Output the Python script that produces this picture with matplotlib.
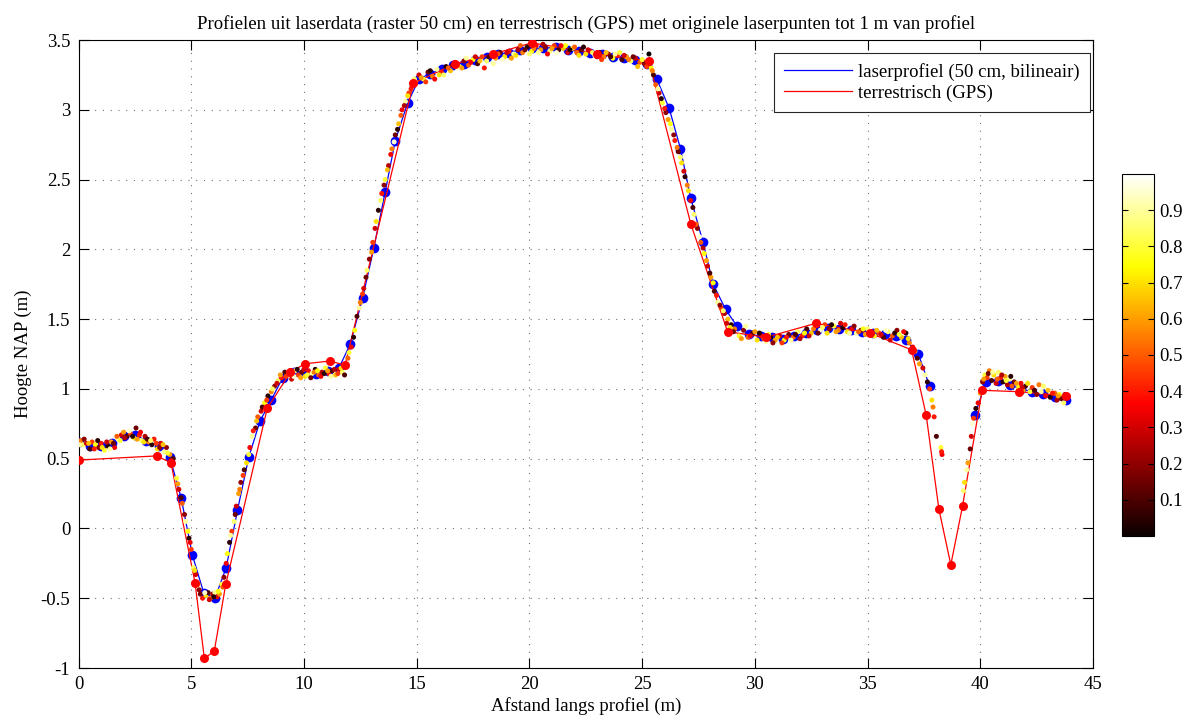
import matplotlib
matplotlib.use("Agg")
import matplotlib.pyplot as plt
import numpy as np
from matplotlib.ticker import FuncFormatter

plt.rcParams["font.family"] = ["Liberation Serif", "DejaVu Serif"]
plt.rcParams["font.size"] = 13.5
plt.rcParams["axes.unicode_minus"] = False

# laser profile (50 cm raster, bilinear), NaN = no data (water)
profile_x = [0.0, 0.5, 1.0, 1.5, 2.0, 2.5, 3.0, 3.55, 4.05, 4.55, 5.05, 5.55,
             6.05, 6.55, 7.05, 7.55, 8.05, 8.55, 9.05, 9.55, 10.05, 10.55,
             11.05, 11.55, 12.05, 12.6, 13.1, 13.6, 14.05, 14.6, 15.1, 15.6,
             16.1, 16.6, 17.1, 17.6, 18.1, 18.6, 19.1, 19.6, 20.1, 20.6, 21.2,
             21.7, 22.2, 22.7, 23.2, 23.7, 24.2, 24.7, 25.2, 25.65, 26.2, 26.7,
             27.15, 27.7, 28.15, 28.7, 29.2, 29.75, 30.25, 30.75, 31.25, 31.75,
             32.25, 32.75, 33.25, 33.75, 34.25, 34.75, 35.25, 35.75, 36.25,
             36.7, 37.25, 37.75, 38.75, 39.75, 40.25, 40.8, 41.3, 41.8, 42.3,
             42.8, 43.3, 43.8]
profile_z = [0.62, 0.59, 0.59, 0.61, 0.66, 0.67, 0.63, 0.59, 0.51, 0.22, -0.19,
             -0.46, -0.50, -0.28, 0.13, 0.51, 0.77, 0.92, 1.08, 1.12, 1.12,
             1.11, 1.13, 1.15, 1.32, 1.65, 2.01, 2.41, 2.78, 3.05, 3.22, 3.26,
             3.29, 3.32, 3.33, 3.36, 3.38, 3.40, 3.41, 3.43, 3.44, 3.44, 3.45,
             3.43, 3.42, 3.41, 3.40, 3.38, 3.37, 3.36, 3.33, 3.22, 3.01, 2.72,
             2.37, 2.05, 1.75, 1.57, 1.45, 1.39, 1.38, 1.37, 1.36, 1.38, 1.40,
             1.42, 1.44, 1.43, 1.42, 1.41, 1.40, 1.39, 1.38, 1.35, 1.25, 1.02,
             np.nan, 0.81, 1.05, 1.06, 1.03, 1.00, 0.98, 0.96, 0.94, 0.92]

# terrestrial GPS survey
gps_x = [0.0, 3.47, 4.10, 5.17, 5.58, 6.02, 6.53, 8.37, 9.4, 10.04, 11.15,
         11.82, 14.85, 16.7, 18.4, 20.1, 23.0, 25.3, 27.16, 28.79, 30.5, 32.7,
         35.1, 36.95, 37.6, 38.16, 38.69, 39.21, 40.08, 41.7, 43.82]
gps_z = [0.49, 0.52, 0.47, -0.39, -0.93, -0.88, -0.40, 0.86, 1.12, 1.18, 1.20,
         1.17, 3.19, 3.33, 3.40, 3.48, 3.40, 3.35, 2.18, 1.41, 1.37, 1.47,
         1.40, 1.28, 0.81, 0.14, -0.26, 0.16, 0.99, 0.98, 0.95]

# original laser points within 1 m of the profile (x, height, colour value)
laser_x = [0.1, 0.2, 0.35, 0.5, 0.6, 0.75, 0.9, 1.0, 1.15, 1.3, 1.45, 1.6, 1.75,
           1.9, 2.0, 2.15, 2.3, 2.45, 2.55, 2.7, 2.8, 2.95, 3.1, 3.25, 3.35,
           3.5, 3.65, 3.8, 3.9, 4.05, 4.15, 4.2,
           4.35, 4.45, 4.6, 4.7, 4.85, 4.9, 5.0, 5.1, 5.2, 5.3, 5.4, 5.5, 5.65,
           5.75, 5.85, 5.95, 6.05, 6.15, 6.25, 6.35, 6.45,
           6.6, 6.7, 6.8, 6.9, 7.0, 7.1, 7.2, 7.3, 7.45, 7.6, 7.7, 7.85, 7.95,
           8.1, 8.25, 8.4, 8.55, 8.7, 8.85, 9.0,
           9.15, 9.3, 9.45, 9.6, 9.75, 9.9, 10.05, 10.2, 10.35, 10.5, 10.65,
           10.8, 10.95, 11.1, 11.25, 11.4, 11.55, 11.7, 11.85, 11.95,
           12.1, 12.25, 12.35, 12.5, 12.65, 12.8, 12.9, 13.05, 13.2, 13.3,
           13.45, 13.6, 13.75, 13.9, 14.05, 14.2, 14.35, 14.5, 14.65, 14.8,
           14.95,
           15.1, 15.3, 15.5, 15.7, 15.9, 16.1, 16.3, 16.5, 16.7, 16.9, 17.1,
           17.3, 17.5, 17.7, 17.9, 18.1, 18.3, 18.5, 18.7, 18.9, 19.1, 19.3,
           19.5, 19.7, 19.9, 20.1, 20.3, 20.5, 20.7, 20.9, 21.1, 21.3, 21.5,
           21.7, 21.9, 22.1, 22.3, 22.5, 22.7, 22.9, 23.1, 23.3, 23.5, 23.7,
           23.9, 24.1, 24.3, 24.5, 24.7, 24.9, 25.1, 25.3,
           15.4, 16.0, 16.8, 17.6, 18.4, 19.2, 20.0, 20.8, 21.6, 22.4, 23.2,
           24.0, 24.8, 19.6, 18.0,
           25.4, 25.5, 25.6, 25.75, 25.9, 26.05, 26.15, 26.3, 26.45, 26.6,
           26.75, 26.9, 27.0, 27.15, 27.3, 27.45, 27.6, 27.75, 27.9, 28.05,
           28.2, 28.35, 28.5, 28.65, 28.8, 28.95, 29.1,
           29.3, 29.5, 29.7, 29.9, 30.1, 30.3, 30.5, 30.7, 30.9, 31.1, 31.3,
           31.5, 31.7, 31.9, 32.1, 32.3, 32.5, 32.7, 32.9, 33.1, 33.3, 33.5,
           33.7, 33.9, 34.1, 34.3, 34.5, 34.7, 34.9, 35.1, 35.3, 35.5, 35.7,
           35.9, 36.1, 36.3, 36.5, 36.7, 36.85, 37.0,
           30.0, 31.2, 32.0, 33.2, 34.0, 35.0, 36.0, 29.6,
           37.1, 37.2, 37.3, 37.45, 37.55, 37.65, 37.75, 37.85, 37.9, 37.95,
           38.05, 38.25, 38.3, 38.28,
           39.25, 39.3, 39.4, 39.45, 39.55, 39.6, 39.65, 39.7, 39.8, 39.9, 40.0,
           40.1, 40.2, 40.3, 40.4, 40.5, 40.6, 40.7, 40.8, 40.9, 41.0, 41.1,
           41.2, 41.3, 41.4, 41.5, 41.7, 41.8, 41.9, 42.0, 42.2, 42.3, 42.5,
           42.6, 42.7, 42.9, 43.0, 43.1, 43.3, 43.4, 43.5, 43.6, 43.7, 43.8,
           # second layer
           0.05, 0.25, 0.45, 0.7, 0.85, 1.05, 1.25, 1.4, 1.55, 1.7, 1.85, 2.05,
           2.25, 2.4, 2.6, 2.75, 2.9, 3.05, 3.2, 3.45, 3.6, 3.75, 3.95, 4.1,
           4.4, 4.55, 4.75, 4.95, 5.15, 5.35, 5.6, 5.8, 6.0, 6.2, 6.4, 6.55,
           6.75, 6.95, 7.15, 7.35, 7.55, 7.75, 7.9, 8.15, 8.35, 8.6, 8.8, 8.95,
           9.2, 9.4, 9.55, 9.7, 9.85, 10.0, 10.15, 10.3, 10.45, 10.6, 10.75,
           10.9, 11.05, 11.2, 11.35, 11.5, 11.65, 11.8, 12.0,
           12.2, 12.45, 12.6, 12.75, 13.0, 13.15, 13.4, 13.55, 13.7, 13.85,
           14.0, 14.15, 14.3, 14.45, 14.6, 14.75, 14.9,
           15.2, 15.6, 15.8, 16.2, 16.4, 16.6, 17.0, 17.2, 17.4, 17.8, 18.2,
           18.6, 18.8, 19.0, 19.4, 19.8, 20.2, 20.4, 20.6, 21.0, 21.2, 21.4,
           21.8, 22.0, 22.2, 22.6, 22.8, 23.0, 23.4, 23.6, 23.8, 24.2, 24.4,
           24.6, 25.0, 25.2,
           25.45, 25.7, 25.85, 26.0, 26.25, 26.4, 26.55, 26.7, 26.85, 27.05,
           27.25, 27.4, 27.55, 27.7, 27.85, 28.0, 28.15, 28.3, 28.45, 28.6,
           28.75, 28.9, 29.05,
           29.4, 29.8, 30.2, 30.4, 30.6, 30.8, 31.0, 31.4, 31.6, 31.8, 32.2,
           32.4, 32.6, 32.8, 33.0, 33.4, 33.6, 33.8, 34.2, 34.4, 34.6, 34.8,
           35.2, 35.4, 35.6, 35.8, 36.2, 36.4, 36.6, 36.8,
           40.15, 40.35, 40.55, 40.75, 40.95, 41.15, 41.35, 41.6, 41.85, 42.1,
           42.4, 42.8, 43.2, 43.45, 43.75]
laser_z = [0.63, 0.60, 0.61, 0.57, 0.62, 0.60, 0.58, 0.61, 0.56, 0.59, 0.62,
           0.58, 0.64, 0.67, 0.69, 0.66, 0.68, 0.65, 0.72, 0.67, 0.63, 0.66,
           0.62, 0.60, 0.64, 0.57, 0.61, 0.55, 0.58, 0.53, 0.47, 0.50,
           0.36, 0.28, 0.18, 0.10, -0.02, -0.07, -0.15, -0.28, -0.33, -0.40,
           -0.47, -0.50, -0.48, -0.46, -0.50, -0.47, -0.46, -0.49, -0.47,
           -0.40, -0.35,
           -0.18, -0.10, -0.02, 0.05, 0.16, 0.25, 0.33, 0.38, 0.47, 0.58, 0.66,
           0.72, 0.80, 0.84, 0.90, 0.95, 0.98, 1.02, 1.06, 1.08,
           1.12, 1.10, 1.07, 1.13, 1.10, 1.12, 1.09, 1.13, 1.11, 1.14, 1.10,
           1.12, 1.15, 1.11, 1.13, 1.10, 1.14, 1.12, 1.16, 1.22,
           1.30, 1.42, 1.52, 1.62, 1.72, 1.85, 1.93, 2.05, 2.20, 2.28, 2.40,
           2.50, 2.60, 2.72, 2.82, 2.90, 3.00, 3.06, 3.12, 3.17, 3.20,
           3.25, 3.22, 3.27, 3.24, 3.29, 3.27, 3.31, 3.28, 3.34, 3.31, 3.35,
           3.32, 3.36, 3.33, 3.38, 3.35, 3.39, 3.37, 3.41, 3.38, 3.42, 3.40,
           3.43, 3.41, 3.45, 3.42, 3.46, 3.43, 3.45, 3.42, 3.46, 3.43, 3.44,
           3.41, 3.44, 3.41, 3.43, 3.40, 3.42, 3.39, 3.41, 3.38, 3.40, 3.37,
           3.39, 3.36, 3.38, 3.35, 3.37, 3.34, 3.33, 3.40,
           3.20, 3.25, 3.30, 3.38, 3.33, 3.37, 3.40, 3.40, 3.46, 3.45, 3.36,
           3.41, 3.31, 3.46, 3.30,
           3.30, 3.25, 3.18, 3.12, 3.05, 2.98, 2.93, 2.86, 2.78, 2.70, 2.62,
           2.52, 2.46, 2.35, 2.25, 2.15, 2.05, 1.97, 1.88, 1.80, 1.70, 1.62,
           1.58, 1.54, 1.50, 1.46, 1.43,
           1.38, 1.42, 1.37, 1.40, 1.35, 1.38, 1.34, 1.37, 1.35, 1.38, 1.35,
           1.39, 1.37, 1.41, 1.38, 1.43, 1.40, 1.45, 1.42, 1.46, 1.43, 1.45,
           1.42, 1.44, 1.41, 1.43, 1.40, 1.42, 1.39, 1.41, 1.38, 1.40, 1.37,
           1.41, 1.38, 1.42, 1.37, 1.40, 1.33, 1.30,
           1.41, 1.33, 1.36, 1.40, 1.46, 1.43, 1.35, 1.45,
           1.27, 1.22, 1.18, 1.15, 1.10, 1.05, 1.00, 0.92, 0.87, 0.80, 0.66,
           0.58, 0.53, 0.55,
           0.27, 0.33, 0.42, 0.47, 0.57, 0.66, 0.75, 0.79, 0.86, 0.90, 0.97,
           1.05, 1.10, 1.08, 1.13, 1.06, 1.10, 1.04, 1.12, 1.08, 1.05, 1.09,
           1.03, 1.07, 1.02, 1.05, 1.01, 1.04, 0.99, 1.02, 0.98, 1.01, 0.96,
           1.03, 0.98, 0.95, 0.99, 0.94, 0.97, 0.92, 0.96, 0.93, 0.90, 0.94,
           # second layer
           0.60, 0.64, 0.61, 0.57, 0.63, 0.58, 0.62, 0.57, 0.61, 0.66, 0.63,
           0.65, 0.70, 0.66, 0.64, 0.69, 0.62, 0.64, 0.63, 0.61, 0.58, 0.60,
           0.54, 0.49,
           0.32, 0.22, 0.05, -0.10, -0.30, -0.44, -0.46, -0.51, -0.49, -0.45,
           -0.42, -0.25,
           -0.05, 0.10, 0.28, 0.42, 0.53, 0.70, 0.77, 0.87, 0.92, 1.00, 1.04,
           1.10,
           1.09, 1.13, 1.09, 1.14, 1.08, 1.14, 1.10, 1.08, 1.12, 1.13, 1.09,
           1.11, 1.13, 1.09, 1.14, 1.11, 1.15, 1.10, 1.26,
           1.37, 1.58, 1.68, 1.80, 1.98, 2.15, 2.35, 2.46, 2.57, 2.68, 2.77,
           2.86, 2.96, 3.03, 3.10, 3.15, 3.22,
           3.23, 3.28, 3.22, 3.25, 3.30, 3.32, 3.30, 3.37, 3.34, 3.35, 3.38,
           3.40, 3.36, 3.41, 3.39, 3.43, 3.44, 3.41, 3.47, 3.44, 3.41, 3.46,
           3.43, 3.45, 3.39, 3.43, 3.41, 3.38, 3.41, 3.38, 3.40, 3.39, 3.36,
           3.38, 3.36, 3.31,
           3.28, 3.15, 3.08, 3.01, 2.90, 2.82, 2.73, 2.66, 2.56, 2.42, 2.30,
           2.18, 2.09, 2.01, 1.92, 1.83, 1.76, 1.67, 1.60, 1.56, 1.47, 1.44,
           1.41,
           1.36, 1.38, 1.40, 1.36, 1.39, 1.33, 1.37, 1.37, 1.35, 1.39, 1.40,
           1.38, 1.43, 1.40, 1.44, 1.46, 1.41, 1.47, 1.40, 1.45, 1.41, 1.43,
           1.40, 1.42, 1.39, 1.42, 1.40, 1.39, 1.41, 1.36,
           1.07, 1.11, 1.12, 1.07, 1.10, 1.06, 1.09, 1.04, 1.01, 1.04, 0.99,
           1.02, 0.97, 0.95, 0.96]
laser_c = [0.55, 0.85, 0.3, 0.1, 0.45, 0.75, 0.2, 0.4, 0.8, 0.05, 0.6, 0.35, 0.9,
           0.3, 0.6, 0.1, 0.45, 0.75, 0.15, 0.4, 0.85, 0.25, 0.55, 0.05, 0.4,
           0.7, 0.3, 0.9, 0.2, 0.6, 0.4, 0.1,
           0.8, 0.3, 0.5, 0.2, 0.75, 0.05, 0.45, 0.85, 0.3, 0.6, 0.15, 0.4, 0.7,
           0.1, 0.55, 0.25, 0.9, 0.35, 0.6, 0.8, 0.2,
           0.75, 0.05, 0.45, 0.85, 0.3, 0.6, 0.2, 0.45, 0.7, 0.35, 0.9, 0.15,
           0.5, 0.3, 0.75, 0.05, 0.55, 0.2, 0.85, 0.4,
           0.1, 0.6, 0.3, 0.85, 0.45, 0.15, 0.7, 0.35, 0.9, 0.05, 0.5, 0.25,
           0.8, 0.4, 0.1, 0.65, 0.3, 0.85, 0.2, 0.5,
           0.35, 0.75, 0.1, 0.55, 0.3, 0.85, 0.2, 0.45, 0.7, 0.05, 0.4, 0.8,
           0.25, 0.55, 0.15, 0.65, 0.35, 0.9, 0.45, 0.1, 0.6,
           0.3, 0.8, 0.15, 0.55, 0.9, 0.4, 0.05, 0.65, 0.35, 0.8, 0.2, 0.5,
           0.75, 0.1, 0.45, 0.85, 0.3, 0.6, 0.15, 0.7, 0.4, 0.9, 0.25, 0.55,
           0.05, 0.75, 0.35, 0.6, 0.2, 0.85, 0.45, 0.1, 0.65, 0.3, 0.8, 0.5,
           0.15, 0.7, 0.35, 0.9, 0.05, 0.55, 0.25, 0.75, 0.4, 0.1, 0.6, 0.85,
           0.3, 0.5, 0.2, 0.0,
           0.45, 0.7, 0.95, 0.3, 0.9, 0.6, 0.85, 0.35, 0.75, 0.05, 0.45, 0.8,
           0.65, 0.5, 0.4,
           0.75, 0.1, 0.5, 0.3, 0.8, 0.2, 0.6, 0.9, 0.4, 0.15, 0.7, 0.05, 0.55,
           0.35, 0.85, 0.2, 0.5, 0.75, 0.3, 0.6, 0.1, 0.9, 0.45, 0.25, 0.65,
           0.05, 0.55,
           0.8, 0.2, 0.5, 0.1, 0.7, 0.35, 0.9, 0.05, 0.6, 0.3, 0.75, 0.15, 0.5,
           0.85, 0.4, 0.1, 0.65, 0.3, 0.95, 0.45, 0.2, 0.8, 0.55, 0.05, 0.7,
           0.35, 0.9, 0.15, 0.6, 0.3, 0.75, 0.45, 0.1, 0.85, 0.5, 0.2, 0.65,
           0.05, 0.55, 0.35,
           0.6, 0.45, 0.25, 0.7, 0.4, 0.85, 0.3, 0.9,
           0.8, 0.1, 0.6, 0.3, 0.9, 0.05, 0.45, 0.7, 0.55, 0.4, 0.1, 0.8, 0.35,
           0.4,
           0.85, 0.7, 0.9, 0.6, 0.15, 0.3, 0.95, 0.45, 0.05, 0.35, 0.6,
           0.2, 0.8, 0.45, 0.55, 0.1, 0.7, 0.3, 0.85, 0.4, 0.05, 0.6, 0.25, 0.9,
           0.5, 0.15, 0.75, 0.35, 0.6, 0.1, 0.8, 0.45, 0.2, 0.55, 0.9, 0.35,
           0.65, 0.05, 0.5, 0.25, 0.75, 0.15, 0.85, 0.4,
           # second layer
           0.9, 0.2, 0.65, 0.4, 0.05, 0.7, 0.3, 0.9, 0.15, 0.5, 0.8, 0.25,
           0.95, 0.05, 0.6, 0.35, 0.7, 0.1, 0.85, 0.45, 0.2, 0.65, 0.8, 0.25,
           0.6, 0.1, 0.9, 0.35, 0.7, 0.2, 0.95, 0.3, 0.05, 0.75, 0.5, 0.35,
           0.9, 0.15, 0.55, 0.1, 0.8, 0.4, 0.65, 0.1, 0.45, 0.85, 0.3, 0.6,
           0.45, 0.2, 0.95, 0.05, 0.6, 0.3, 0.8, 0.15, 0.55, 0.75, 0.35, 0.05,
           0.6, 0.9, 0.25, 0.45, 0.7, 0.1, 0.8,
           0.05, 0.9, 0.45, 0.15, 0.6, 0.3, 0.85, 0.2, 0.65, 0.35, 0.95, 0.05,
           0.5, 0.25, 0.7, 0.4, 0.85,
           0.6, 0.05, 0.35, 0.85, 0.5, 0.15, 0.6, 0.9, 0.35, 0.65, 0.1, 0.5,
           0.95, 0.3, 0.7, 0.15, 0.55, 0.9, 0.25, 0.6, 0.95, 0.35, 0.05, 0.5,
           0.7, 0.3, 0.85, 0.2, 0.65, 0.1, 0.9, 0.3, 0.55, 0.15, 0.8, 0.45,
           0.55, 0.9, 0.05, 0.4, 0.75, 0.2, 0.55, 0.85, 0.3, 0.7, 0.1, 0.5,
           0.95, 0.25, 0.6, 0.1, 0.75, 0.4, 0.2, 0.85, 0.3, 0.7, 0.15,
           0.6, 0.35, 0.05, 0.55, 0.8, 0.2, 0.65, 0.4, 0.9, 0.1, 0.75, 0.3,
           0.55, 0.15, 0.85, 0.05, 0.6, 0.3, 0.9, 0.2, 0.5, 0.75, 0.1, 0.65,
           0.3, 0.95, 0.05, 0.8, 0.35, 0.7,
           0.6, 0.15, 0.9, 0.5, 0.25, 0.8, 0.05, 0.6, 0.3, 0.7, 0.1, 0.85, 0.4,
           0.6, 0.2]

x_ticks = [0, 5, 10, 15, 20, 25, 30, 35, 40, 45]
y_ticks = [-1, -0.5, 0, 0.5, 1, 1.5, 2, 2.5, 3, 3.5]
cbar_ticks = [0.1, 0.2, 0.3, 0.4, 0.5, 0.6, 0.7, 0.8, 0.9]

fig = plt.figure(figsize=(11.88, 7.2), dpi=100)
ax = fig.add_axes([0.0661, 0.0722, 0.854, 0.8722])

# profile under the laser points, GPS markers on top
ax.plot(profile_x, profile_z, color="b", linewidth=0.9,
        label="laserprofiel (50 cm, bilineair)", zorder=3)
ax.plot(profile_x, profile_z, linestyle="none", marker="o", markersize=7,
        color="b", markeredgewidth=0, zorder=3)
ax.plot(gps_x, gps_z, color="r", linewidth=0.9, label="terrestrisch (GPS)",
        zorder=4)
points = ax.scatter(laser_x, laser_z, c=laser_c, cmap="hot", vmin=0, vmax=1,
                    s=13, linewidths=0, zorder=5)
ax.plot(gps_x, gps_z, linestyle="none", marker="o", markersize=6.5,
        color="r", markeredgewidth=0, zorder=6)

ax.set_xlim(0, 45)
ax.set_ylim(-1, 3.5)
ax.set_xticks(x_ticks)
ax.set_yticks(y_ticks)
ax.yaxis.set_major_formatter(FuncFormatter(lambda v, _: f"{v:g}"))
ax.tick_params(direction="in", length=7, width=0.8, top=True, right=True,
               labelsize=13.5, pad=6)
ax.grid(True, linestyle=(0, (1, 6)), color="0.45", linewidth=0.8)
for spine in ax.spines.values():
    spine.set_linewidth(0.8)

ax.set_title("Profielen uit laserdata (raster 50 cm) en terrestrisch (GPS) "
             "met originele laserpunten tot 1 m van profiel", fontsize=13.5,
             pad=8)
ax.set_xlabel("Afstand langs profiel (m)", fontsize=13.5, labelpad=3)
ax.set_ylabel("Hoogte NAP (m)", fontsize=13.5, labelpad=6)

legend = ax.legend(loc="upper right", bbox_to_anchor=(0.997, 0.98),
                   borderaxespad=0, fancybox=False, framealpha=1,
                   edgecolor="0.15", handlelength=3.6, handletextpad=0.35,
                   borderpad=0.55, labelspacing=0.2, fontsize=13.5)
legend.get_frame().set_linewidth(0.8)
legend.set_zorder(10)

cax = fig.add_axes([0.9444, 0.2556, 0.0269, 0.5028])
cbar = fig.colorbar(points, cax=cax, ticks=cbar_ticks)
cbar.ax.yaxis.set_major_formatter(FuncFormatter(lambda v, _: f"{v:g}"))
cbar.ax.tick_params(direction="in", length=4, width=0.8, left=True,
                    right=True, labelsize=13.5)
cbar.outline.set_linewidth(0.8)

fig.savefig("out.png", dpi=100)
